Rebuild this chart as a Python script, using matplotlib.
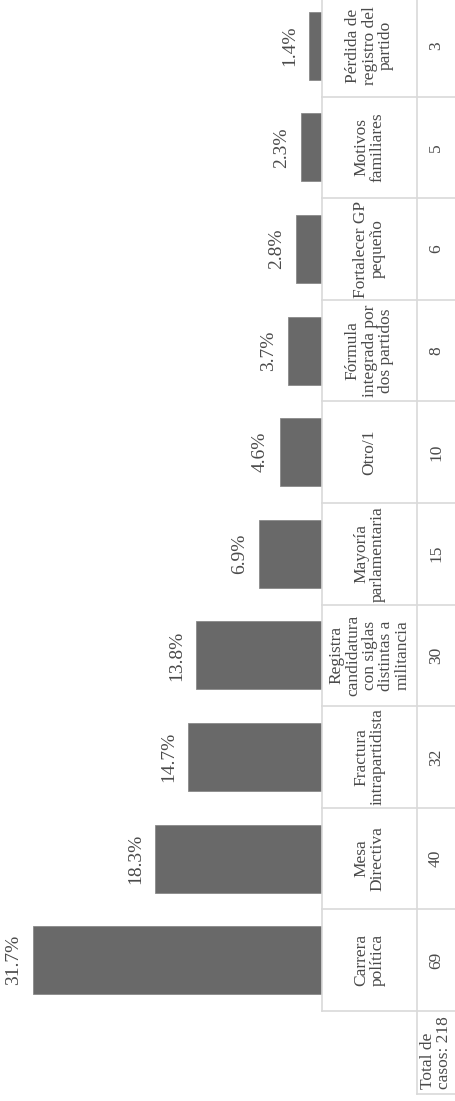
import matplotlib
matplotlib.use('Agg')
import matplotlib.pyplot as plt

categories = ['Carrera\npolítica', 'Mesa\nDirectiva', 'Fractura\nintrapartidista',
              'Registra\ncandidatura\ncon siglas\ndistintas a\nmilitancia',
              'Mayoría\nparlamentaria', 'Otro/1', 'Fórmula\nintegrada por\ndos partidos',
              'Fortalecer GP\npequeño', 'Motivos\nfamiliares', 'Pérdida de\nregistro del\npartido']
counts = [69, 40, 32, 30, 15, 10, 8, 6, 5, 3]
percents = [31.7, 18.3, 14.7, 13.8, 6.9, 4.6, 3.7, 2.8, 2.3, 1.4]
total_label = 'Total de\ncasos: 218'

plt.rcParams['font.family'] = ['Liberation Serif', 'DejaVu Serif']
text_color = '#4a4a4a'
grid_color = '#d9d9d9'

W, H = 455, 1101
fig = plt.figure(figsize=(W / 100, H / 100), dpi=100)

# bar area (chart is drawn rotated: bars grow to the left)
ax = fig.add_axes([3 / W, 90 / H, 319 / W, 1016 / H])
pos = list(range(len(categories)))
ax.barh(pos, percents, height=0.67, color='#696969', edgecolor='#8a8a8a', linewidth=0.6)
ax.set_xlim(35, 0)
ax.set_ylim(-0.5, len(categories) - 0.5)
ax.axis('off')
for p, v in zip(pos, percents):
    ax.annotate('%.1f%%' % v, xy=(v, p), xytext=(-8, 0), textcoords='offset points',
                rotation=90, ha='right', va='center', fontsize=14, color=text_color)

# data table to the right
axt = fig.add_axes([322 / W, 90 / H, 133 / W, 1016 / H], sharey=ax)
axt.set_xlim(0, 1)
axt.axis('off')
split = 95 / 133
total_h = 83 / 101.6
bottom = -0.5
lkw = dict(color=grid_color, lw=1.2, clip_on=False)
axt.plot([0, 0], [bottom, len(categories) - 0.5], **lkw)
axt.plot([split, split], [bottom - total_h, len(categories) - 0.5], **lkw)
for i in range(len(categories)):
    axt.plot([0, 1], [i - 0.5, i - 0.5], **lkw)
axt.plot([split, 1], [bottom - total_h, bottom - total_h], **lkw)
for p, c, n in zip(pos, categories, counts):
    axt.text(split / 2, p, c, rotation=90, ha='center', va='center', fontsize=12.5,
             color=text_color, linespacing=1.05, multialignment='center')
    axt.text((split + 1) / 2, p, str(n), rotation=90, ha='center', va='center',
             fontsize=12.5, color=text_color)
axt.text((split + 1) / 2, bottom - total_h / 2, total_label, rotation=90, ha='center',
         va='center', fontsize=12.5, color=text_color, linespacing=1.05,
         multialignment='left', clip_on=False)

fig.savefig('out.png', dpi=100, facecolor='white')
